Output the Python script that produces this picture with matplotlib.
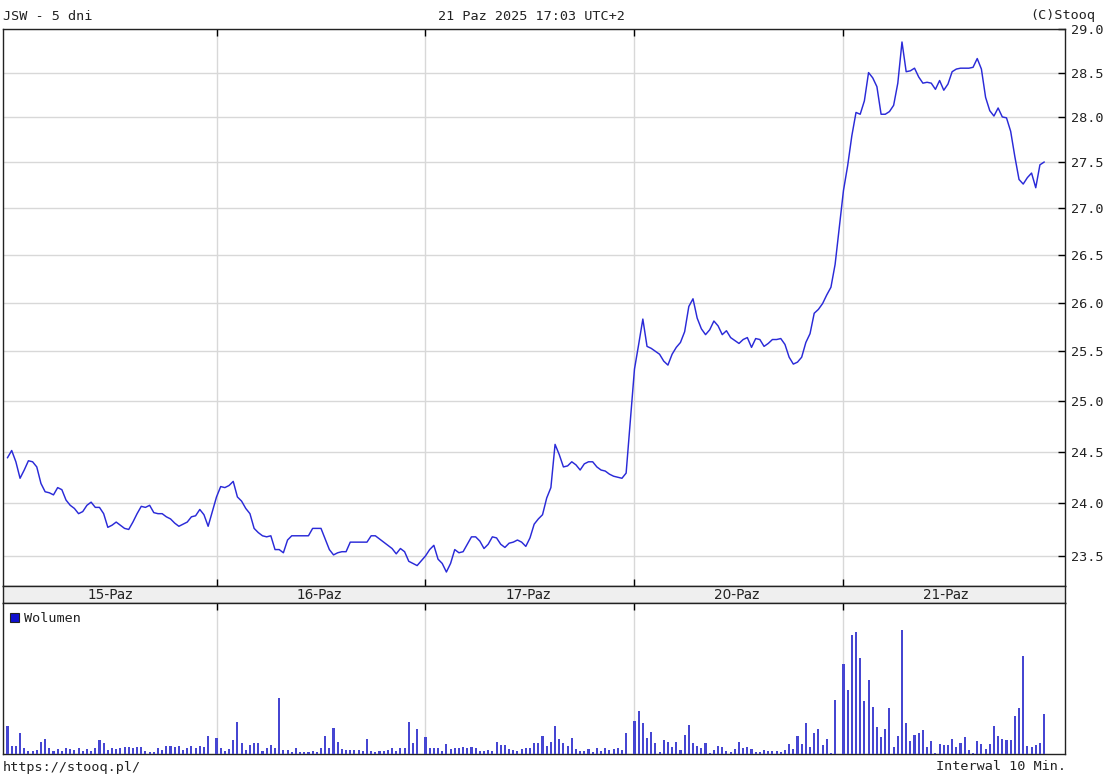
import matplotlib
matplotlib.use("Agg")
import matplotlib.pyplot as plt
from matplotlib.ticker import FixedLocator, FormatStrFormatter, NullLocator
from matplotlib.patches import Rectangle
import numpy as np

# ---------------- data ----------------
day_labels = ["15-Paz", "16-Paz", "17-Paz", "20-Paz", "21-Paz"]
slots_per_day = 50

price_d1 = [24.44, 24.51, 24.40, 24.24, 24.32, 24.41, 24.40, 24.35, 24.19, 24.11,
            24.10, 24.08, 24.15, 24.13, 24.03, 23.98, 23.95, 23.90, 23.92, 23.98,
            24.01, 23.96, 23.96, 23.90, 23.77, 23.79, 23.82, 23.79, 23.76, 23.75,
            23.82, 23.90, 23.97, 23.96, 23.98, 23.91, 23.90, 23.90, 23.87, 23.85,
            23.81, 23.78, 23.80, 23.82, 23.87, 23.88, 23.94, 23.89, 23.78]
price_d2 = [24.06, 24.16, 24.15, 24.17, 24.21, 24.06, 24.02, 23.95, 23.90, 23.76,
            23.72, 23.69, 23.68, 23.69, 23.56, 23.56, 23.53, 23.65, 23.69, 23.69,
            23.69, 23.69, 23.69, 23.76, 23.76, 23.76, 23.66, 23.56, 23.51, 23.53,
            23.54, 23.54, 23.63, 23.63, 23.63, 23.63, 23.63, 23.69, 23.69, 23.66,
            23.63, 23.60, 23.57, 23.52, 23.57, 23.54, 23.45, 23.43, 23.41]
price_d3 = [23.50, 23.56, 23.60, 23.47, 23.43, 23.35, 23.43, 23.56, 23.53, 23.54,
            23.61, 23.68, 23.68, 23.64, 23.57, 23.61, 23.68, 23.67, 23.61, 23.58,
            23.62, 23.63, 23.65, 23.63, 23.59, 23.67, 23.80, 23.85, 23.89, 24.05,
            24.15, 24.57, 24.47, 24.35, 24.36, 24.40, 24.37, 24.32, 24.38, 24.40,
            24.40, 24.35, 24.32, 24.31, 24.28, 24.26, 24.25, 24.24, 24.29]
price_d4 = [25.32, 25.57, 25.83, 25.55, 25.53, 25.50, 25.47, 25.40, 25.36, 25.47,
            25.54, 25.59, 25.70, 25.96, 26.04, 25.84, 25.73, 25.67, 25.72, 25.81,
            25.76, 25.67, 25.71, 25.64, 25.61, 25.58, 25.62, 25.64, 25.54, 25.63,
            25.62, 25.55, 25.58, 25.62, 25.62, 25.63, 25.57, 25.44, 25.37, 25.39,
            25.44, 25.59, 25.68, 25.89, 25.93, 25.99, 26.08, 26.16, 26.40]
price_d5 = [27.19, 27.46, 27.79, 28.05, 28.03, 28.18, 28.50, 28.44, 28.34, 28.03,
            28.03, 28.06, 28.13, 28.38, 28.85, 28.51, 28.52, 28.55, 28.45, 28.38,
            28.39, 28.38, 28.31, 28.41, 28.30, 28.37, 28.51, 28.54, 28.55, 28.55,
            28.55, 28.56, 28.66, 28.54, 28.22, 28.07, 28.01, 28.10, 28.00, 27.99,
            27.84, 27.56, 27.31, 27.26, 27.33, 27.38, 27.22, 27.47, 27.50]

vol_d1 = [28, 8, 8, 21, 6, 3, 3, 4, 12, 15, 6, 3, 5, 3, 6, 5, 4, 6, 3, 5,
          3, 6, 14, 11, 4, 6, 5, 6, 7, 7, 6, 7, 7, 3, 2, 2, 6, 4, 8, 8,
          7, 8, 4, 6, 8, 6, 8, 7, 18]
vol_d2 = [16, 6, 3, 5, 14, 32, 11, 4, 9, 11, 11, 3, 6, 9, 6, 56, 4, 4, 2, 6,
          2, 2, 2, 3, 2, 6, 18, 6, 26, 12, 5, 4, 4, 4, 4, 3, 15, 3, 2, 3,
          3, 4, 6, 3, 6, 6, 32, 11, 25]
vol_d3 = [17, 6, 6, 6, 3, 10, 5, 6, 6, 7, 6, 7, 6, 3, 3, 4, 3, 12, 9, 9,
          5, 4, 3, 5, 6, 6, 11, 11, 18, 8, 12, 28, 15, 11, 8, 16, 5, 3, 3, 5,
          2, 6, 3, 6, 4, 5, 6, 4, 21]
vol_d4 = [33, 43, 31, 16, 22, 11, 2, 14, 12, 7, 12, 4, 19, 29, 11, 8, 6, 11, 1, 4,
          8, 7, 3, 2, 5, 12, 6, 7, 5, 2, 2, 4, 3, 3, 3, 2, 4, 10, 5, 18,
          10, 31, 7, 21, 25, 9, 15, 1, 54]
vol_d5 = [89, 64, 118, 121, 95, 53, 74, 47, 27, 17, 25, 46, 7, 18, 123, 31, 13, 19, 21, 24,
          7, 13, 1, 10, 9, 9, 15, 7, 11, 17, 4, 1, 13, 10, 5, 10, 28, 18, 15, 14,
          14, 38, 46, 97, 8, 7, 9, 11, 40]

y_ticks = [23.5, 24.0, 24.5, 25.0, 25.5, 26.0, 26.5, 27.0, 27.5, 28.0, 28.5, 29.0]

prices = [price_d1, price_d2, price_d3, price_d4, price_d5]
vols = [vol_d1, vol_d2, vol_d3, vol_d4, vol_d5]
x_all, p_all, v_all = [], [], []
for d, (pp, vv) in enumerate(zip(prices, vols)):
    for i, (p, v) in enumerate(zip(pp, vv)):
        x_all.append(d * slots_per_day + i)
        p_all.append(p)
        v_all.append(v)

# ---------------- layout ----------------
W, H = 1111, 781
fig = plt.figure(figsize=(W / 100, H / 100), dpi=100)
fig.patch.set_facecolor("white")


def rect(l, t, r, b):
    return [l / W, 1 - b / H, (r - l) / W, (b - t) / H]


mono = "DejaVu Sans Mono"
fs = 9.7
line_col = "#2a2ad8"
bar_col = "#4646d2"
grid_col = "#d8d8d8"
xlim = (-1.08, 253.0)
bounds = [slots_per_day * d for d in range(1, 5)]

ax = fig.add_axes(rect(3, 29, 1065, 586))
strip = fig.add_axes(rect(3, 586, 1065, 603))
axv = fig.add_axes(rect(3, 603, 1065, 754))

# main price axes
ax.plot(x_all, p_all, color=line_col, lw=1.05, zorder=3)
ax.set_yscale("log")
ax.set_ylim(23.22, 29.0)
ax.set_xlim(*xlim)
ax.yaxis.set_major_locator(FixedLocator(y_ticks))
ax.yaxis.set_major_formatter(FormatStrFormatter("%.1f"))
ax.yaxis.set_minor_locator(NullLocator())
ax.yaxis.tick_right()
ax.tick_params(axis="y", direction="in", length=5, width=1, pad=4,
               labelsize=fs, labelcolor="#222222")
for lab in ax.get_yticklabels():
    lab.set_fontfamily(mono)
ax.set_xticks(bounds)
ax.tick_params(axis="x", direction="in", length=5, width=1, top=True, bottom=True,
               labelbottom=False)
for y in y_ticks:
    ax.axhline(y, color=grid_col, lw=1, zorder=1)
for b in bounds:
    ax.axvline(b, color=grid_col, lw=1, zorder=1)
for s in ax.spines.values():
    s.set_color("#222222")
    s.set_linewidth(1)

# date strip
strip.set_facecolor("#efefef")
strip.set_xlim(*xlim)
strip.set_ylim(0, 1)
strip.set_xticks([])
strip.set_yticks([])
for d, lab in enumerate(day_labels):
    strip.text(d * slots_per_day + 24.5, 0.45, lab, ha="center", va="center",
               fontsize=9.8, family="DejaVu Sans", color="#222222")
for s in strip.spines.values():
    s.set_color("#222222")
    s.set_linewidth(1)

# volume axes
axv.bar(x_all, v_all, width=0.5, color=bar_col, zorder=3)
axv.set_xlim(*xlim)
axv.set_ylim(0, 150)
axv.set_yticks([])
axv.set_xticks(bounds)
axv.tick_params(axis="x", direction="in", length=5, width=1, top=True, bottom=False,
                labelbottom=False)
for b in bounds:
    axv.axvline(b, color=grid_col, lw=1, zorder=1)
for s in axv.spines.values():
    s.set_color("#222222")
    s.set_linewidth(1)

# legend for volume
fig.patches.append(Rectangle((10 / W, 1 - 622 / H), 9 / W, 9 / H,
                             transform=fig.transFigure, facecolor="#1010d0",
                             edgecolor="#222222", lw=0.8))
fig.text(24 / W, 1 - 618 / H, "Wolumen", ha="left", va="center",
         fontsize=fs, family=mono, color="#222222")

# header / footer texts
fig.text(3 / W, 1 - 16 / H, "JSW - 5 dni", ha="left", va="center",
         fontsize=fs, family=mono, color="#222222")
fig.text(531 / W, 1 - 16 / H, "21 Paz 2025 17:03 UTC+2", ha="center", va="center",
         fontsize=fs, family=mono, color="#222222")
fig.text(1095 / W, 1 - 16 / H, "(C)Stooq", ha="right", va="center",
         fontsize=fs, family=mono, color="#222222")
fig.text(3 / W, 1 - 767 / H, "https://stooq.pl/", ha="left", va="center",
         fontsize=fs, family=mono, color="#222222")
fig.text(1066 / W, 1 - 767 / H, "Interwal 10 Min.", ha="right", va="center",
         fontsize=fs, family=mono, color="#222222")

fig.savefig("out.png", dpi=100, facecolor="white")
